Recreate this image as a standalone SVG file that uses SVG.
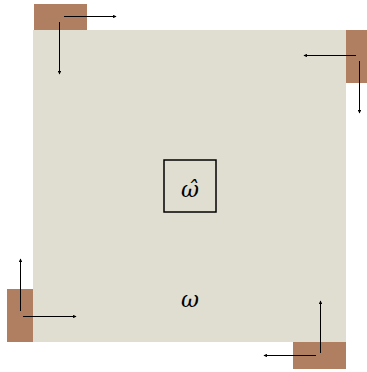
<svg xmlns="http://www.w3.org/2000/svg" width="367" height="372" viewBox="0 0 367 372">
<defs>
<marker id="ah" viewBox="0 0 6 6" refX="5" refY="3" markerWidth="3.5" markerHeight="3.5" orient="auto" markerUnits="userSpaceOnUse">
<path d="M0,0 L6,3 L0,6 z" fill="#000"/>
</marker>
<style>
.corner{fill:#b07f62}
.main{fill:#e0ddd1}
.conn line{stroke:#000;stroke-width:1;marker-end:url(#ah)}
.lbl{font-family:"DejaVu Serif",serif;font-style:italic;font-size:22px;fill:#000;text-anchor:middle}
</style>
</defs>
<rect width="367" height="372" fill="#fff"/>
<g id="corner-tl"><rect class="corner" x="34" y="4" width="53" height="53"/></g>
<g id="corner-tr"><rect class="corner" x="314" y="30" width="53" height="53"/></g>
<g id="corner-bl"><rect class="corner" x="7" y="289" width="53" height="53"/></g>
<g id="corner-br"><rect class="corner" x="293" y="316" width="53" height="53"/></g>
<g id="omega"><rect class="main" x="33" y="30" width="313" height="312"/>
<text class="lbl" x="190" y="307">ω</text></g>
<g id="omega-hat"><rect x="164" y="160" width="52" height="52" fill="none" stroke="#000" stroke-width="1.5"/>
<text class="lbl" x="190" y="197">ω̂</text></g>
<g class="conn" id="connectors">
<line x1="64" y1="16.5" x2="116" y2="16.5"/>
<line x1="59.5" y1="22" x2="59.5" y2="74"/>
<line x1="356" y1="55.5" x2="304" y2="55.5"/>
<line x1="359.5" y1="61" x2="359.5" y2="113"/>
<line x1="20.5" y1="311" x2="20.5" y2="259"/>
<line x1="23" y1="316.5" x2="76" y2="316.5"/>
<line x1="320.5" y1="353" x2="320.5" y2="301"/>
<line x1="316" y1="355.5" x2="264" y2="355.5"/>
</g>
</svg>
